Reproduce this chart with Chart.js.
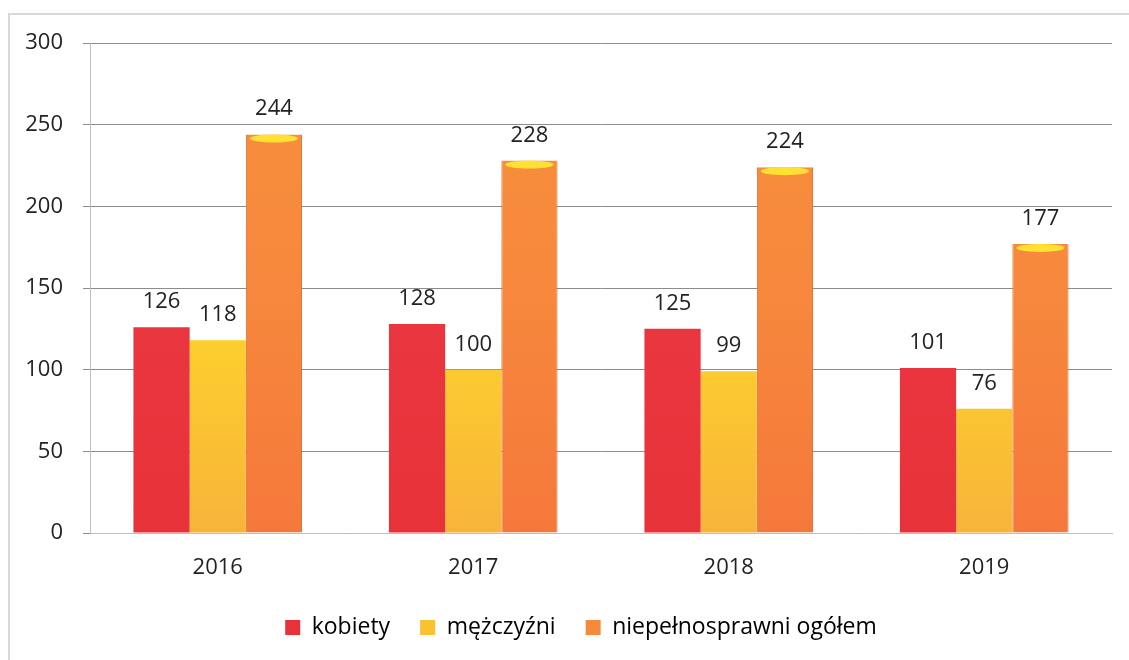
<!DOCTYPE html>
<html>
<head>
<meta charset="utf-8">
<script src="https://cdn.jsdelivr.net/npm/chart.js@4"></script>
<style>
  html, body { margin: 0; padding: 0; background: #fff; overflow: hidden; }
  #ramka { position: absolute; left: 8px; top: 13px; width: 1140px; height: 700px; border-left: 2px solid #d9d9d9; border-top: 2px solid #d9d9d9; }
  #wrap { position: absolute; left: 0; top: 0; width: 1129px; height: 660px; }
</style>
</head>
<body>
<div id="ramka"></div>
<div id="wrap"><canvas id="wykres"></canvas></div>
<script>
// dane z wykresu
const lata = ['2016', '2017', '2018', '2019'];
const kobiety = [126, 128, 125, 101];
const mezczyzni = [118, 100, 99, 76];
const ogolem = [244, 228, 224, 177];
const podzialkaY = [0, 50, 100, 150, 200, 250, 300];

const czcionka = "'Open Sans', 'Noto Sans', sans-serif";

function gradient(ctx, area, kolory) {
    if (!area) return kolory[0];
    const g = ctx.createLinearGradient(0, area.top, 0, area.bottom);
    kolory.forEach((k, i) => g.addColorStop(i / (kolory.length - 1), k));
    return g;
}

// etykiety wartości nad słupkami + żółta "czapka" na pomarańczowych
const etykiety = {
    id: 'etykiety',
    afterLayout(chart) {
        // legenda w oryginale lekko w prawo od środka
        chart.legend.left += 25;
        chart.legend.right += 25;
    },
    afterDatasetsDraw(chart) {
        const ctx = chart.ctx;
        chart.data.datasets.forEach((ds, i) => {
            chart.getDatasetMeta(i).data.forEach((bar, j) => {
                if (i === 2) {
                    ctx.save();
                    ctx.fillStyle = '#ffe033';
                    ctx.beginPath();
                    ctx.ellipse(bar.x, bar.y + 4, bar.width / 2 - 4, 4, 0, 0, Math.PI * 2);
                    ctx.fill();
                    ctx.restore();
                }
                ctx.save();
                ctx.font = '22px ' + czcionka;
                ctx.fillStyle = '#222';
                ctx.textAlign = 'center';
                ctx.textBaseline = 'alphabetic';
                ctx.fillText(ds.data[j], bar.x, bar.y - 19);
                ctx.restore();
            });
        });
    }
};

new Chart(document.getElementById('wykres'), {
    type: 'bar',
    data: {
        labels: lata,
        datasets: [{
            label: 'kobiety',
            data: kobiety,
            backgroundColor: c => gradient(c.chart.ctx, c.chart.chartArea, ['#ec3b45', '#e8323a']),
            categoryPercentage: 0.66,
            barPercentage: 1
        }, {
            label: 'mężczyźni',
            data: mezczyzni,
            backgroundColor: c => gradient(c.chart.ctx, c.chart.chartArea, ['#fff21a', '#ffd52a', '#f7b43a']),
            categoryPercentage: 0.66,
            barPercentage: 1
        }, {
            label: 'niepełnosprawni ogółem',
            data: ogolem,
            backgroundColor: c => gradient(c.chart.ctx, c.chart.chartArea, ['#f7903c', '#f7883d', '#f5783b']),
            borderColor: '#e26a30',
            borderWidth: { left: 1, right: 1, top: 0, bottom: 0 },
            categoryPercentage: 0.66,
            barPercentage: 1
        }]
    },
    options: {
        responsive: true,
        maintainAspectRatio: false,
        animation: false,
        layout: { padding: { top: 43, right: 17, left: 0, bottom: 11 } },
        plugins: {
            legend: {
                position: 'bottom',
                labels: {
                    font: { size: 23, family: czcionka },
                    color: '#222',
                    boxWidth: 15,
                    boxHeight: 15,
                    padding: 30,
                    generateLabels(chart) {
                        const kol = ['#e8323a', '#f9c22e', '#f58a3c'];
                        return chart.data.datasets.map((ds, i) => ({
                            text: ds.label, fillStyle: kol[i], strokeStyle: kol[i],
                            lineWidth: 0, datasetIndex: i
                        }));
                    }
                }
            },
            tooltip: { enabled: false }
        },
        scales: {
            x: {
                grid: { display: false, drawTicks: true },
                border: { color: '#bfbfbf' },
                ticks: { font: { size: 22, family: czcionka }, color: '#222', padding: 14 },
                afterFit(s) { s.height = 53; }
            },
            y: {
                min: 0,
                max: 300,
                afterBuildTicks(s) { s.ticks = podzialkaY.map(v => ({ value: v })); },
                grid: { color: '#8c8c8c', lineWidth: 1, tickLength: 7 },
                border: { color: '#bfbfbf' },
                ticks: { font: { size: 22, family: czcionka }, color: '#222', padding: 20 },
                afterFit(s) { s.width = 90; }
            }
        }
    },
    plugins: [etykiety]
});
</script>
</body>
</html>
